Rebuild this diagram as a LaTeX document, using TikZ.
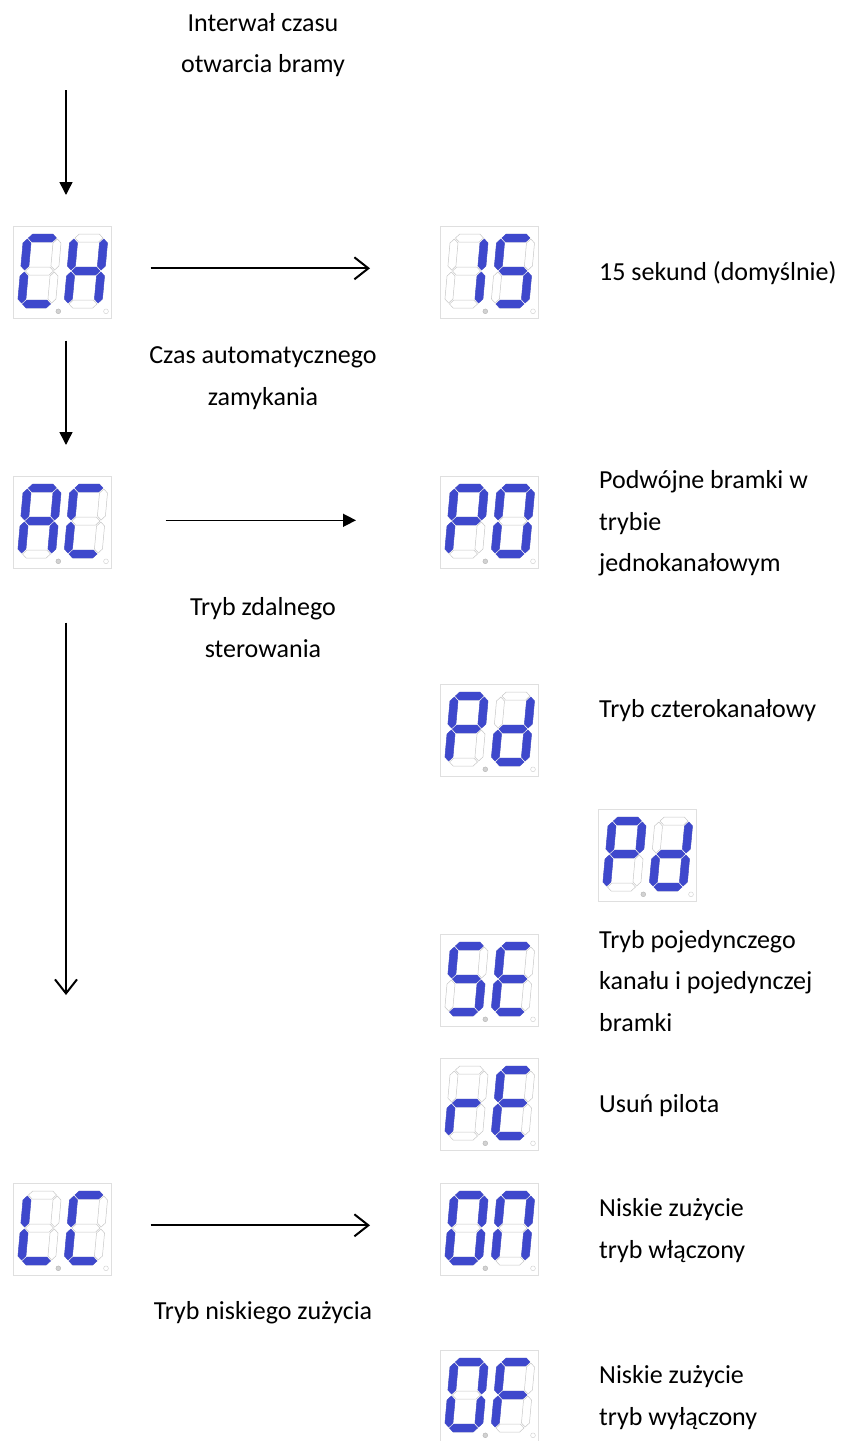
\documentclass[tikz,border=0pt]{standalone}
\usepackage{fontspec}
\setmainfont{Carlito}
\usepackage{xcolor}
\usetikzlibrary{arrows.meta,calc,positioning}

\definecolor{segblue}{RGB}{62,72,204}

% one segment of a digit 30 wide and 66 high
\newcommand\hseg[2]{\path[#2] (1,#1) -- (5,#1+4) -- (25,#1+4) -- (29,#1) -- (25,#1-4) -- (5,#1-4) -- cycle;}
\newcommand\vseg[3]{\path[#3] (#1,#2+1) -- (#1+4,#2+5) -- (#1+4,#2+28) -- (#1,#2+32) -- (#1-4,#2+28) -- (#1-4,#2+5) -- cycle;}
\newcommand\sega[1]{\hseg{66}{#1}}
\newcommand\segb[1]{\vseg{30}{33}{#1}}
\newcommand\segc[1]{\vseg{30}{0}{#1}}
\newcommand\segd[1]{\hseg{0}{#1}}
\newcommand\sege[1]{\vseg{0}{0}{#1}}
\newcommand\segf[1]{\vseg{0}{33}{#1}}
\newcommand\segg[1]{\hseg{33}{#1}}

\newcommand\sevdigit[3]{%
  \begin{scope}[shift={(#1,#2)},yscale=-1,xslant=-.09]
  \foreach \s in {a,...,g} {\csname seg\s\endcsname{segoff}}
  \foreach \s in {#3} {\csname seg\s\endcsname{segon}}
  \end{scope}}

% name, top left corner, left digit, right digit
\newcommand\display[5]{%
  \node[dispbox] (#1) at (#2,#3) {};
  \sevdigit{#2+8.5}{#3+78}{#4}
  \sevdigit{#2+55}{#3+78}{#5}
  \fill[gray!35,draw=gray!60] (#2+45.3,#3+85.3) circle (2.4pt);
  \draw[gray!40] (#2+93,#3+85.3) circle (2.4pt);}

\tikzset{
  dispbox/.style={draw=gray!25,line width=.6pt,anchor=north west,minimum width=98pt,minimum height=92pt,inner sep=0},
  segon/.style={fill=segblue,draw=segblue,line width=.4pt},
  segoff/.style={draw=gray!45,line width=.5pt},
  lbl/.style={align=center,inner sep=0,font=\fontsize{26}{41.5}\selectfont},
  rlbl/.style={align=left,anchor=west,inner sep=0,font=\fontsize{26}{41.5}\selectfont},
  flow/.style={line width=1.5pt,-{Triangle[length=13pt,width=13pt]}},
  barb/.style={line width=2pt,-{Straight Barb[length=14pt,width=22pt]}}
}

\begin{document}
\begin{tikzpicture}[x=1pt,y=-1pt]
\useasboundingbox (0,0) rectangle (847,1441);

% displays
\display{dCH}{13}{226}{a,f,e,d}{f,b,g,e,c}
\display{dQ}{440}{226}{b,c}{a,f,g,c,d}
\display{dAC}{13}{476}{a,b,c,e,f,g}{a,f,e,d}
\display{dPO}{440}{476}{a,b,f,g,e}{a,b,c,d,e,f}
\display{dPd}{440}{684}{a,b,f,g,e}{b,c,d,e,g}
\display{dPdb}{598}{809}{a,b,f,g,e}{b,c,d,e,g}
\display{dSE}{440}{934}{a,f,g,c,d}{a,f,g,e,d}
\display{drE}{440}{1058}{e,g}{a,f,g,e,d}
\display{dLC}{13}{1183}{f,e,d}{a,f,e,d}
\display{dOn}{440}{1183}{a,b,c,d,e,f}{a,b,c,e,f}
\display{dOff}{440}{1350}{a,b,c,d,e,f}{a,f,g,e}

% labels on the left
\node[lbl] (tInt) at (263,45) {Interwał czasu\\otwarcia bramy};
\node[lbl] (tAuto) at (263,378) {Czas automatycznego\\zamykania};
\node[lbl] (tRem) at (263,627.5) {Tryb zdalnego\\sterowania};
\node[lbl] (tLow) at (263,1313) {Tryb niskiego zużycia};

% labels on the right
\node[rlbl] (tSec) at (599,273) {15 sekund (domyślnie)};
\node[rlbl] (tDouble) at (599,523.5) {Podwójne bramki w\\trybie\\jednokanałowym};
\node[rlbl] (tFour) at (599,711) {Tryb czterokanałowy};
\node[rlbl] (tSingle) at (599,981) {Tryb pojedynczego\\kanału i pojedynczej\\bramki};
\node[rlbl] (tDel) at (599,1106) {Usuń pilota};
\node[rlbl] (tOn) at (599,1230.5) {Niskie zużycie\\tryb włączony};
\node[rlbl] (tOff) at (599,1397.5) {Niskie zużycie\\tryb wyłączony};

% arrows
\coordinate (aTop) at (66,90);
\coordinate (aDown) at (66,995);
\draw[flow,shorten >=31pt] (aTop) -- (aTop |- dCH.north);
\draw[flow,shorten <=22pt,shorten >=31pt] (aTop |- dCH.south) -- (aTop |- dAC.north);
\draw[barb,shorten <=54pt] (aTop |- dAC.south) -- (aDown);
\draw[barb,shorten <=39pt,shorten >=70pt] ([yshift=4pt]dCH.east) -- ([yshift=4pt]dQ.west);
\draw[flow,shorten <=54pt,shorten >=84pt] ([yshift=2pt]dAC.east) -- ([yshift=2pt]dPO.west);
\draw[barb,shorten <=39pt,shorten >=70pt] ([yshift=4pt]dLC.east) -- ([yshift=4pt]dOn.west);
\end{tikzpicture}
\end{document}
